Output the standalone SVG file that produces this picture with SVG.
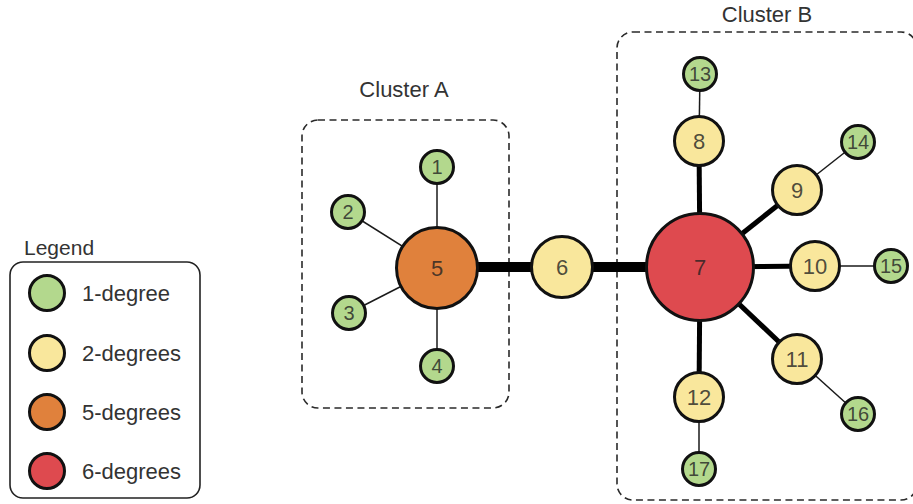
<svg xmlns="http://www.w3.org/2000/svg" width="913" height="504" viewBox="0 0 913 504">
<style>
.box{fill:none;stroke:#2a2a2a;stroke-width:1.6;stroke-dasharray:7 4.5}
.title{font-family:"Liberation Sans",Arial,sans-serif;font-size:22px;fill:#333;text-anchor:middle}
.node circle{stroke:#111;stroke-width:3}
.lbl{font-family:"Liberation Sans",Arial,sans-serif;fill:#222;fill-opacity:0.8;text-anchor:middle;dominant-baseline:central}
.s{font-size:20px}
.m{font-size:22px}
.g{fill:#b3d88d}
.y{fill:#f9e79c}
.o{fill:#e0813c}
.r{fill:#de4a4f}
.thin{stroke:#1a1a1a;stroke-width:1.5}
.med{stroke:#000;stroke-width:5}
.thick{stroke:#000;stroke-width:10}
.leg{font-family:"Liberation Sans",Arial,sans-serif;font-size:22px;fill:#333}
</style>
<rect width="913" height="504" fill="#fff"/>

<g id="clusterA">
<rect class="box" x="302" y="120" width="207" height="288" rx="16"/>
<text class="title" x="404" y="97">Cluster A</text>
</g>
<g id="clusterB">
<rect class="box" x="617" y="32" width="300" height="468" rx="16"/>
<text class="title" x="767" y="22">Cluster B</text>
</g>

<g id="connectors">
<line class="thin" x1="437" y1="167" x2="437" y2="268"/>
<line class="thin" x1="348" y1="212" x2="437" y2="268"/>
<line class="thin" x1="349" y1="313" x2="437" y2="268"/>
<line class="thin" x1="437" y1="366" x2="437" y2="268"/>
<line class="thick" x1="437" y1="267" x2="562" y2="267"/>
<line class="thick" x1="562" y1="267" x2="700" y2="267"/>
<line class="med" x1="700" y1="267" x2="699" y2="141"/>
<line class="med" x1="700" y1="267" x2="797" y2="190"/>
<line class="med" x1="700" y1="267" x2="815" y2="266"/>
<line class="med" x1="700" y1="267" x2="797" y2="359"/>
<line class="med" x1="700" y1="267" x2="699" y2="397"/>
<line class="thin" x1="699" y1="141" x2="700" y2="74"/>
<line class="thin" x1="797" y1="190" x2="858" y2="142"/>
<line class="thin" x1="815" y1="266" x2="891" y2="266"/>
<line class="thin" x1="797" y1="359" x2="858" y2="414"/>
<line class="thin" x1="699" y1="397" x2="699" y2="469"/>
</g>

<g id="n1" class="node"><circle class="g" cx="437" cy="167" r="16.5"/><text class="lbl s" x="437" y="167">1</text></g>
<g id="n2" class="node"><circle class="g" cx="348" cy="212" r="16.5"/><text class="lbl s" x="348" y="212">2</text></g>
<g id="n3" class="node"><circle class="g" cx="349" cy="313" r="16.5"/><text class="lbl s" x="349" y="313">3</text></g>
<g id="n4" class="node"><circle class="g" cx="437" cy="366" r="16.5"/><text class="lbl s" x="437" y="366">4</text></g>
<g id="n5" class="node"><circle class="o" cx="437" cy="268" r="40.5"/><text class="lbl m" x="437" y="268">5</text></g>
<g id="n6" class="node"><circle class="y" cx="562" cy="267" r="30.5"/><text class="lbl m" x="562" y="267">6</text></g>
<g id="n7" class="node"><circle class="r" cx="700" cy="267" r="53.5"/><text class="lbl m" x="700" y="267">7</text></g>
<g id="n8" class="node"><circle class="y" cx="699" cy="141" r="24.5"/><text class="lbl m" x="699" y="141">8</text></g>
<g id="n9" class="node"><circle class="y" cx="797" cy="190" r="24.5"/><text class="lbl m" x="797" y="190">9</text></g>
<g id="n10" class="node"><circle class="y" cx="815" cy="266" r="24.5"/><text class="lbl m" x="815" y="266">10</text></g>
<g id="n11" class="node"><circle class="y" cx="797" cy="359" r="24.5"/><text class="lbl m" x="797" y="359">11</text></g>
<g id="n12" class="node"><circle class="y" cx="699" cy="397" r="24.5"/><text class="lbl m" x="699" y="397">12</text></g>
<g id="n13" class="node"><circle class="g" cx="700" cy="74" r="16.5"/><text class="lbl s" x="700" y="74">13</text></g>
<g id="n14" class="node"><circle class="g" cx="858" cy="142" r="16.5"/><text class="lbl s" x="858" y="142">14</text></g>
<g id="n15" class="node"><circle class="g" cx="891" cy="266" r="16.5"/><text class="lbl s" x="891" y="266">15</text></g>
<g id="n16" class="node"><circle class="g" cx="858" cy="414" r="16.5"/><text class="lbl s" x="858" y="414">16</text></g>
<g id="n17" class="node"><circle class="g" cx="699" cy="469" r="16.5"/><text class="lbl s" x="699" y="469">17</text></g>

<g id="legend">
<text class="leg" x="24" y="255" style="font-size:21px">Legend</text>
<rect x="10" y="262" width="190" height="236" rx="13" fill="none" stroke="#222" stroke-width="1.6"/>
<g class="node"><circle class="g" cx="47" cy="293" r="17.5"/></g>
<text class="leg" x="82" y="301">1-degree</text>
<g class="node"><circle class="y" cx="47" cy="353" r="17.5"/></g>
<text class="leg" x="82" y="361">2-degrees</text>
<g class="node"><circle class="o" cx="47" cy="412" r="17.5"/></g>
<text class="leg" x="82" y="420">5-degrees</text>
<g class="node"><circle class="r" cx="47" cy="471" r="17.5"/></g>
<text class="leg" x="82" y="479">6-degrees</text>
</g>
</svg>
